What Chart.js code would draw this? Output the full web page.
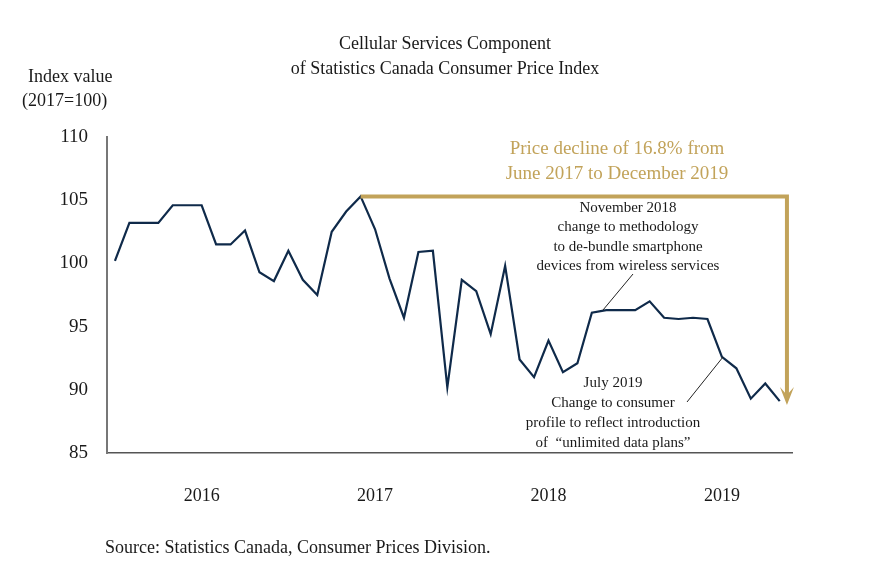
<!DOCTYPE html>
<html><head><meta charset="utf-8">
<script src="https://cdn.jsdelivr.net/npm/chart.js@4"></script>
<style>html,body{margin:0;padding:0;background:#fff}#w{width:888px;height:572px}</style>
</head><body><div id="w"><canvas id="c"></canvas></div>
<script>
const months = ["2016-01","2016-02","2016-03","2016-04","2016-05","2016-06","2016-07","2016-08","2016-09","2016-10","2016-11","2016-12",
"2017-01","2017-02","2017-03","2017-04","2017-05","2017-06","2017-07","2017-08","2017-09","2017-10","2017-11","2017-12",
"2018-01","2018-02","2018-03","2018-04","2018-05","2018-06","2018-07","2018-08","2018-09","2018-10","2018-11","2018-12",
"2019-01","2019-02","2019-03","2019-04","2019-05","2019-06","2019-07","2019-08","2019-09","2019-10","2019-11"];
const cpiValues = [100.2,103.2,103.2,103.2,104.6,104.6,104.6,101.5,101.5,102.6,99.3,98.6,
101.0,98.7,97.5,102.5,104.1,105.3,102.7,98.8,95.7,100.9,101.0,90.2,
98.7,97.8,94.4,99.8,92.4,91.0,93.9,91.4,92.1,96.1,96.3,96.3,
96.3,97.0,95.7,95.6,95.7,95.6,92.6,91.7,89.3,90.5,89.1];
const yearTicks = [6,18,30,42];
const yearLabels = ["2016","2017","2018","2019"];
const yTicks = [85,90,95,100,105,110];
const F = "'Liberation Serif', serif";
const GOLD = "#c2a35a";

const overlay = {
  id:'overlay',
  afterDatasetsDraw(chart){
    const {ctx, scales:{x,y}} = chart;
    ctx.save();
    // gold arrow
    const x0 = x.getPixelForValue(17), y0 = y.getPixelForValue(105.3);
    const x1 = x.getPixelForValue(46.5), y1 = y.getPixelForValue(88.8);
    ctx.strokeStyle = GOLD; ctx.lineWidth = 4;
    ctx.beginPath(); ctx.moveTo(x0,y0); ctx.lineTo(x1,y0); ctx.lineTo(x1,y1-10); ctx.stroke();
    ctx.fillStyle = GOLD;
    ctx.beginPath(); ctx.moveTo(x1-7,y1-18); ctx.lineTo(x1,y1-10); ctx.lineTo(x1+7,y1-18); ctx.lineTo(x1,y1); ctx.closePath(); ctx.fill();
    ctx.textAlign='center'; ctx.textBaseline='middle';
    ctx.font = "19px "+F;
    ctx.fillText("Price decline of 16.8% from",617,149);
    ctx.fillText("June 2017 to December 2019",617,174);
    // annotations
    ctx.fillStyle = "#1a1a1a"; ctx.font = "15px "+F;
    ["November 2018","change to methodology","to de-bundle smartphone","devices from wireless services"].forEach((t,i)=>ctx.fillText(t,628,208+i*19.5));
    ["July 2019","Change to consumer","profile to reflect introduction","of  “unlimited data plans”"].forEach((t,i)=>ctx.fillText(t,613,383+i*20));
    ctx.strokeStyle="#222"; ctx.lineWidth=1;
    ctx.beginPath(); ctx.moveTo(633,274); ctx.lineTo(603,310); ctx.stroke();
    ctx.beginPath(); ctx.moveTo(723,357); ctx.lineTo(687,402); ctx.stroke();
    // titles
    ctx.font = "18px "+F;
    ctx.fillText("Cellular Services Component",445,44);
    ctx.fillText("of Statistics Canada Consumer Price Index",445,69);
    ctx.textAlign='left';
    ctx.fillText("Index value",28,77);
    ctx.fillText("(2017=100)",22,101);
    ctx.fillText("Source: Statistics Canada, Consumer Prices Division.",105,548);
    ctx.restore();
  }
};

new Chart(document.getElementById('c'),{
  type:'line',
  data:{ datasets:[{ data: cpiValues.map((v,i)=>({x:i,y:v})), borderColor:'#0f2a4a', borderWidth:2.2, pointRadius:0, tension:0, fill:false }]},
  options:{
    responsive:true, maintainAspectRatio:false, animation:false,
    plugins:{legend:{display:false},tooltip:{enabled:false}},
    layout:{padding:{top:137,right:96,left:0,bottom:0}},
    scales:{
      x:{ type:'linear', min:-0.55, max:46.85,
        afterFit(s){ s.height = 119; },
        afterBuildTicks(s){ s.ticks = yearTicks.map(v=>({value:v})); },
        ticks:{ callback:(v)=>yearLabels[yearTicks.indexOf(v)] ?? '', color:'#1a1a1a', font:{family:F,size:18}, padding:32, maxRotation:0, autoSkip:false },
        grid:{display:false, drawTicks:false},
        border:{display:true,color:'#555',width:1.5}
      },
      y:{ min:85, max:110,
        afterFit(s){ s.width = 107; },
        afterBuildTicks(s){ s.ticks = yTicks.map(v=>({value:v})); },
        ticks:{ color:'#1a1a1a', font:{family:F,size:19}, padding:19 },
        grid:{display:false, drawTicks:false},
        border:{display:true,color:'#777',width:2}
      }
    }
  },
  plugins:[overlay]
});
</script></body></html>
